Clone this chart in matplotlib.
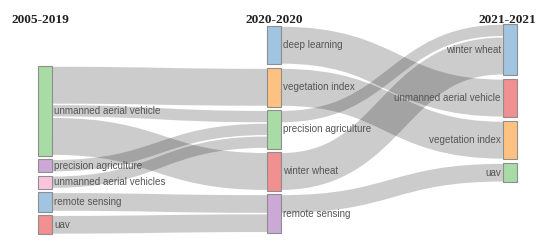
import matplotlib
matplotlib.use('Agg')
import matplotlib.pyplot as plt
from matplotlib.path import Path
from matplotlib.patches import PathPatch, Rectangle

# periods and keywords (nodes) per period
periods = ['2005-2019', '2020-2020', '2021-2021']
nodes1 = ['unmanned aerial vehicle', 'precision agriculture', 'unmanned aerial vehicles',
          'remote sensing', 'uav']
nodes2 = ['deep learning', 'vegetation index', 'precision agriculture', 'winter wheat',
          'remote sensing']
nodes3 = ['winter wheat', 'unmanned aerial vehicle', 'vegetation index', 'uav']

colors1 = ['#a3d9a0', '#c9a3d4', '#f9c2dc', '#9cc2e0', '#f08a8a']
colors2 = ['#9cc2e0', '#fdbf7a', '#a3d9a0', '#f08a8a', '#c9a3d4']
colors3 = ['#9cc2e0', '#f08a8a', '#fdbf7a', '#a3d9a0']

# links period 1 -> period 2
src12 = [0, 0, 0, 1, 2, 3, 4]
tgt12 = [1, 2, 3, 2, 2, 4, 4]
val12 = [3, 1, 3, 1, 1, 1.5, 1.5]
# links period 2 -> period 3
src23 = [0, 1, 2, 3, 4]
tgt23 = [1, 2, 0, 0, 3]
val23 = [3, 3, 1, 3, 1.5]

# layout (pixels)
k = 12.8          # px per unit
gap = 3.7
col_x = [38, 267, 503]
col_top = [66, 26, 24]
node_w = 14

fig = plt.figure(figsize=(5.5, 2.5), dpi=100)
ax = fig.add_axes([0, 0, 1, 1])
ax.set_xlim(0, 550)
ax.set_ylim(250, 0)
ax.axis('off')

columns = [nodes1, nodes2, nodes3]
colors = [colors1, colors2, colors3]
links = [(0, src12, tgt12, val12), (1, src23, tgt23, val23)]

# node sizes = max(in, out)
sizes = [[0.0] * len(c) for c in columns]
for c, s, t, v in links:
    outs = [0.0] * len(columns[c])
    ins = [0.0] * len(columns[c + 1])
    for a, b, w in zip(s, t, v):
        outs[a] += w
        ins[b] += w
    sizes[c] = [max(x, y) for x, y in zip(sizes[c], outs)]
    sizes[c + 1] = [max(x, y) for x, y in zip(sizes[c + 1], ins)]

tops = []
for c in range(3):
    y = col_top[c]
    ys = []
    for sz in sizes[c]:
        ys.append(y)
        y += sz * k + gap
    tops.append(ys)

# links
for c, s, t, v in links:
    out_off = [0.0] * len(columns[c])
    in_off = [0.0] * len(columns[c + 1])
    order = sorted(range(len(s)), key=lambda i: (s[i], tops[c + 1][t[i]]))
    y0s = {}
    for i in order:
        y0s[i] = tops[c][s[i]] + out_off[s[i]] + v[i] * k / 2
        out_off[s[i]] += v[i] * k
    order = sorted(range(len(s)), key=lambda i: (t[i], tops[c][s[i]]))
    y1s = {}
    for i in order:
        y1s[i] = tops[c + 1][t[i]] + in_off[t[i]] + v[i] * k / 2
        in_off[t[i]] += v[i] * k
    for i in range(len(s)):
        x0 = col_x[c] + node_w
        x1 = col_x[c + 1]
        xm = (x0 + x1) / 2
        verts = [(x0, y0s[i]), (xm, y0s[i]), (xm, y1s[i]), (x1, y1s[i])]
        codes = [Path.MOVETO, Path.CURVE4, Path.CURVE4, Path.CURVE4]
        w = v[i] * k - 1.5
        ax.add_patch(PathPatch(Path(verts, codes), fill=False, edgecolor=(0, 0, 0, 0.2),
                               lw=w * 72 / 100, capstyle='butt'))

# nodes and labels
label_font = dict(family='Liberation Sans', size=7.1, color='#555555')
for c in range(3):
    for j, name in enumerate(columns[c]):
        h = sizes[c][j] * k
        ax.add_patch(Rectangle((col_x[c], tops[c][j]), node_w, h, facecolor=colors[c][j],
                               edgecolor='#8a8a8a', lw=0.8, alpha=0.95))
        yc = tops[c][j] + h / 2
        if c < 2:
            ax.text(col_x[c] + node_w + 2, yc, name, ha='left', va='center', **label_font)
        else:
            ax.text(col_x[c] - 2, yc, name, ha='right', va='center', **label_font)

# period titles
title_font = dict(family='Liberation Serif', weight='bold', size=9.6, color='#222222')
ax.text(12, 23, periods[0], ha='left', va='baseline', **title_font)
ax.text(274, 23, periods[1], ha='center', va='baseline', **title_font)
ax.text(536, 23, periods[2], ha='right', va='baseline', **title_font)

fig.savefig('out.png', dpi=100)
